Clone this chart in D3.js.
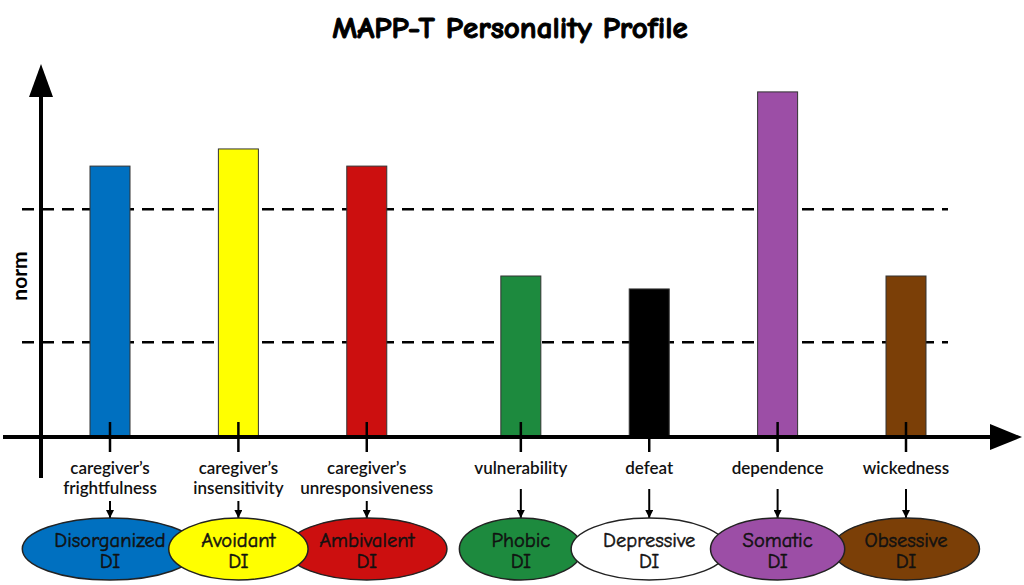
<!DOCTYPE html>
<html>
<head>
<meta charset="utf-8">
<script src="https://cdn.jsdelivr.net/npm/d3@7"></script>
<style>
	body { margin: 0; background: #fff; }
	svg { display: block; }
</style>
</head>
<body>
<div id="chart"></div>
<script>
// chart data
const categories = ["frightfulness", "insensitivity", "unresponsiveness", "vulnerability", "defeat", "dependence", "wickedness"]
const labelLines = [
	["caregiver\u2019s", "frightfulness"],
	["caregiver\u2019s", "insensitivity"],
	["caregiver\u2019s", "unresponsiveness"],
	["vulnerability"],
	["defeat"],
	["dependence"],
	["wickedness"]
]
// 0 = attachment styles, 1 = other disorders
const groups = [0, 0, 0, 1, 1, 1, 1]
const scores = [7.74, 8.23, 7.74, 4.6, 4.23, 9.86, 4.6]
const normBounds = [2.71, 6.51]
const disorders = ["Disorganized", "Avoidant", "Ambivalent", "Phobic", "Depressive", "Somatic", "Obsessive"]
const colors = ["#0070c0", "#ffff00", "#cc0f0f", "#1d8a3e", "#000000", "#9c4ea6", "#7b3f07"]
const ellipseColors = ["#0070c0", "#ffff00", "#cc0f0f", "#1d8a3e", "#ffffff", "#9c4ea6", "#7b3f07"]

const width = 1024
const height = 585
const comic = "'Comic Sans MS', 'Comic Neue', 'DejaVu Sans', sans-serif"
const labelFont = "Lato, 'Open Sans', sans-serif"
const groupGap = 0.2

const svg = d3.select("#chart").append("svg")
	.attr("width", width)
	.attr("height", height)

const xi = d3.scaleLinear().domain([0, 6 + groupGap]).range([110, 906])
const cx = d => {
	const i = categories.indexOf(d)
	return xi(i + groups[i] * groupGap)
}
const y = d3.scaleLinear().domain([0, 10]).range([437, 87])
const barW = 40

// title
svg.append("text")
	.attr("x", 510)
	.attr("y", 38)
	.attr("text-anchor", "middle")
	.attr("font-family", comic)
	.attr("font-weight", "bold")
	.attr("font-size", 31)
	.attr("stroke", "#000")
	.attr("stroke-width", 1)
	.text("MAPP-T Personality Profile")

// norm band
svg.selectAll(".norm-line")
	.data(normBounds)
	.join("line")
	.attr("class", "norm-line")
	.attr("x1", 22)
	.attr("x2", 948)
	.attr("y1", d => y(d))
	.attr("y2", d => y(d))
	.attr("stroke", "#000")
	.attr("stroke-width", 2.5)
	.attr("stroke-dasharray", "12,8")

// bars
svg.append("g")
	.attr("class", "bars")
	.selectAll("rect")
	.data(scores)
	.join("rect")
	.attr("x", (d, i) => cx(categories[i]) - barW / 2)
	.attr("y", d => y(d))
	.attr("width", barW)
	.attr("height", d => y(0) - y(d))
	.attr("fill", (d, i) => colors[i])
	.attr("stroke", "#333")
	.attr("stroke-width", 1)

// axes with arrow heads
svg.append("line")
	.attr("x1", 41).attr("x2", 41)
	.attr("y1", 478).attr("y2", 95)
	.attr("stroke", "#000").attr("stroke-width", 4)
svg.append("path")
	.attr("d", d3.line()([[41, 64], [53, 97], [29, 97]]) + "Z")
	.attr("fill", "#000")
svg.append("line")
	.attr("x1", 3).attr("x2", 992)
	.attr("y1", y(0)).attr("y2", y(0))
	.attr("stroke", "#000").attr("stroke-width", 4)
svg.append("path")
	.attr("d", d3.line()([[1022, y(0)], [990, y(0) - 13], [990, y(0) + 13]]) + "Z")
	.attr("fill", "#000")

// tick marks under the axis
svg.selectAll(".tick-mark")
	.data(categories)
	.join("line")
	.attr("class", "tick-mark")
	.attr("x1", d => cx(d)).attr("x2", d => cx(d))
	.attr("y1", 422).attr("y2", 452)
	.attr("stroke", "#000").attr("stroke-width", 2.5)

// y label
svg.append("text")
	.attr("transform", "translate(27,276) rotate(-90)")
	.attr("text-anchor", "middle")
	.attr("font-family", labelFont)
	.attr("font-weight", "bold")
	.attr("font-size", 21)
	.text("norm")

// category labels
const labels = svg.append("g").selectAll("text")
	.data(labelLines)
	.join("text")
	.attr("text-anchor", "middle")
	.attr("font-family", labelFont)
	.attr("font-weight", 600)
	.attr("font-size", 17)
	.attr("fill", "#111")
labels.selectAll("tspan")
	.data((d, i) => d.map(t => ({ t, i })))
	.join("tspan")
	.attr("x", d => cx(categories[d.i]))
	.attr("y", (d, j) => 474 + j * 20)
	.text(d => d.t)

// arrows from labels to disorders
const marker = svg.append("defs").append("marker")
	.attr("id", "arrow")
	.attr("viewBox", "0 0 10 10")
	.attr("refX", 10).attr("refY", 5)
	.attr("markerWidth", 4).attr("markerHeight", 4)
	.attr("orient", "auto")
marker.append("path").attr("d", "M0,0L10,5L0,10Z").attr("fill", "#000")

svg.selectAll(".down-arrow")
	.data(labelLines)
	.join("line")
	.attr("class", "down-arrow")
	.attr("x1", (d, i) => cx(categories[i]))
	.attr("x2", (d, i) => cx(categories[i]))
	.attr("y1", d => d.length > 1 ? 501 : 489)
	.attr("y2", 518)
	.attr("stroke", "#000").attr("stroke-width", 2)
	.attr("marker-end", "url(#arrow)")

// disorder ellipses, yellow and purple drawn on top
const order = [0, 2, 1, 3, 4, 6, 5]
const dis = svg.append("g").selectAll("g")
	.data(order)
	.join("g")
	.attr("transform", i => `translate(${cx(categories[i])},549)`)
dis.append("ellipse")
	.attr("ry", 31)
	.attr("fill", i => ellipseColors[i])
	.attr("stroke", "#222")
	.attr("stroke-width", 1.5)
dis.append("text")
	.attr("text-anchor", "middle")
	.attr("font-family", comic)
	.attr("font-size", 20.5)
	.attr("fill", "#111")
	.attr("stroke", "#111")
	.attr("stroke-width", 0.5)
	.selectAll("tspan")
	.data(i => [disorders[i], "DI"])
	.join("tspan")
	.attr("x", 0)
	.attr("y", (d, j) => -2 + j * 21)
	.text(d => d)
dis.each(function () {
	const t = d3.select(this).select("text").node().getBBox()
	d3.select(this).select("ellipse").attr("rx", t.width / 2 + 32)
})
</script>
</body>
</html>
